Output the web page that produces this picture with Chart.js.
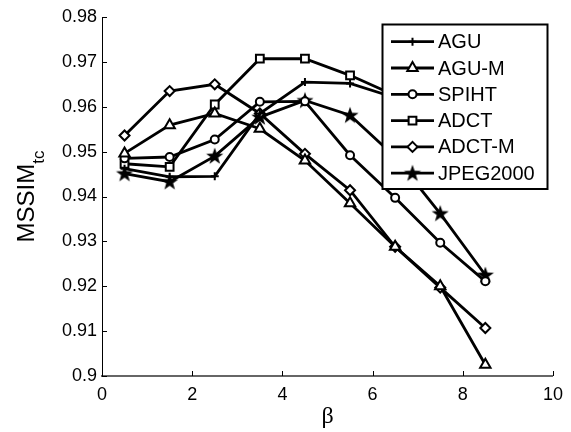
<!DOCTYPE html>
<html>
<head>
<meta charset="utf-8">
<script src="https://cdn.jsdelivr.net/npm/chart.js@4/dist/chart.umd.min.js"></script>
<style>
  html, body { margin: 0; padding: 0; background: #fff; }
  #grafico { display: block; }
</style>
</head>
<body>
<canvas id="grafico" width="571" height="432"></canvas>
<script>
// valores de beta (eje x)
const beta = [0.5, 1.5, 2.5, 3.5, 4.5, 5.5, 6.5, 7.5, 8.5];

// MSSIM_tc por metodo
const agu      = [0.9462, 0.9444, 0.9445, 0.9585, 0.9655, 0.9652, 0.9620, 0.9560, 0.9500];
const aguM     = [0.9496, 0.9559, 0.9585, 0.9551, 0.9480, 0.9385, 0.9288, 0.9200, 0.9025];
const spiht    = [0.9485, 0.9488, 0.9527, 0.9611, 0.9612, 0.9492, 0.9397, 0.9297, 0.9211];
const adct     = [0.9473, 0.9466, 0.9605, 0.9707, 0.9707, 0.9670, 0.9625, 0.9560, 0.9490];
const adctM    = [0.9536, 0.9635, 0.9650, 0.9585, 0.9495, 0.9414, 0.9288, 0.9197, 0.9107];
const jpeg2000 = [0.9451, 0.9433, 0.9490, 0.9577, 0.9614, 0.9581, 0.9488, 0.9362, 0.9225];

const nombres = ['AGU', 'AGU-M', 'SPIHT', 'ADCT', 'ADCT-M', 'JPEG2000'];
const xTicks = [0, 2, 4, 6, 8, 10];
const yTicks = [0.9, 0.91, 0.92, 0.93, 0.94, 0.95, 0.96, 0.97, 0.98];

const FUENTE = "'Liberation Sans', Arial, sans-serif";

// estrella rellena de 5 puntas para JPEG2000
function crearEstrella() {
  const c = document.createElement('canvas');
  c.width = 20; c.height = 20;
  const g = c.getContext('2d');
  g.beginPath();
  for (let i = 0; i < 10; i++) {
    const r = i % 2 === 0 ? 9 : 3.6;
    const a = -Math.PI / 2 + i * Math.PI / 5;
    const px = 10 + r * Math.cos(a), py = 10.5 + r * Math.sin(a);
    if (i === 0) g.moveTo(px, py); else g.lineTo(px, py);
  }
  g.closePath();
  g.fillStyle = '#000';
  g.fill();
  return c;
}
const estrella = crearEstrella();

function serie(label, valores, estilo, radio, relleno) {
  return {
    label: label,
    data: beta.map((b, i) => ({ x: b, y: valores[i] })),
    borderColor: '#000',
    borderWidth: 2.8,
    backgroundColor: relleno,
    pointStyle: estilo,
    pointRadius: radio,
    pointBorderColor: '#000',
    pointBackgroundColor: relleno,
    pointBorderWidth: 2,
    tension: 0,
    fill: false
  };
}

const datasets = [
  serie(nombres[0], agu, 'cross', 4, '#fff'),
  serie(nombres[1], aguM, 'triangle', 6, '#fff'),
  serie(nombres[2], spiht, 'circle', 4, '#fff'),
  serie(nombres[3], adct, 'rect', 5.5, '#fff'),
  serie(nombres[4], adctM, 'rectRot', 5, '#fff'),
  serie(nombres[5], jpeg2000, estrella, 9, '#000')
];

// marcas hacia adentro, titulos y leyenda estilo MATLAB
const estiloMatlab = {
  id: 'estiloMatlab',
  afterDatasetsDraw(chart) {
    const ctx = chart.ctx;
    const xs = chart.scales.x, ys = chart.scales.y;
    const area = chart.chartArea;
    ctx.save();
    ctx.strokeStyle = '#000';
    ctx.lineWidth = 1;
    xTicks.forEach(v => {
      const px = Math.round(xs.getPixelForValue(v)) + 0.5;
      ctx.beginPath(); ctx.moveTo(px, area.bottom); ctx.lineTo(px, area.bottom - 5); ctx.stroke();
    });
    yTicks.forEach(v => {
      const py = Math.round(ys.getPixelForValue(v)) + 0.5;
      ctx.beginPath(); ctx.moveTo(area.left, py); ctx.lineTo(area.left + 5, py); ctx.stroke();
    });

    // titulo eje y: MSSIM con subindice tc
    ctx.fillStyle = '#000';
    ctx.translate(34, (area.top + area.bottom) / 2);
    ctx.rotate(-Math.PI / 2);
    ctx.font = '24px ' + FUENTE;
    const w1 = ctx.measureText('MSSIM').width;
    ctx.font = '17px ' + FUENTE;
    const w2 = ctx.measureText('tc').width;
    const x0 = -(w1 + w2) / 2;
    ctx.textBaseline = 'alphabetic';
    ctx.font = '24px ' + FUENTE;
    ctx.fillText('MSSIM', x0, 0);
    ctx.font = '17px ' + FUENTE;
    ctx.fillText('tc', x0 + w1, 10);
    ctx.restore();

    // titulo eje x
    ctx.save();
    ctx.fillStyle = '#000';
    ctx.font = "24px 'Liberation Serif', 'Times New Roman', serif";
    ctx.textAlign = 'center';
    ctx.textBaseline = 'alphabetic';
    ctx.fillText('\u03B2', xs.getPixelForValue(5), 423);
    ctx.restore();

    // leyenda
    ctx.save();
    const lx = 382.5, ly = 24.5, lw = 165, lh = 164.5;
    ctx.fillStyle = '#fff';
    ctx.fillRect(lx, ly, lw, lh);
    ctx.strokeStyle = '#000';
    ctx.lineWidth = 2;
    ctx.strokeRect(lx, ly, lw, lh);
    chart.data.datasets.forEach((ds, i) => {
      const y = 41.7 + i * 26.3;
      ctx.strokeStyle = '#000';
      ctx.lineWidth = 2.8;
      ctx.beginPath(); ctx.moveTo(391, y); ctx.lineTo(434, y); ctx.stroke();
      ctx.fillStyle = ds.pointBackgroundColor;
      ctx.lineWidth = ds.pointBorderWidth;
      Chart.helpers.drawPoint(ctx, {
        pointStyle: ds.pointStyle, radius: ds.pointRadius,
        borderWidth: ds.pointBorderWidth, rotation: 0
      }, 412.5, y);
      ctx.fillStyle = '#000';
      ctx.font = '20px ' + FUENTE;
      ctx.textAlign = 'left';
      ctx.textBaseline = 'middle';
      ctx.fillText(ds.label, 438, y + 1);
    });
    ctx.restore();
  }
};

new Chart(document.getElementById('grafico'), {
  type: 'line',
  data: { datasets: datasets },
  options: {
    responsive: false,
    animation: false,
    devicePixelRatio: 1,
    layout: { padding: { top: 17, right: 18, left: 0, bottom: 0 } },
    plugins: { legend: { display: false }, tooltip: { enabled: false } },
    scales: {
      x: {
        type: 'linear', min: 0, max: 10,
        afterFit: s => { s.height = 56; },
        afterBuildTicks: s => { s.ticks = xTicks.map(v => ({ value: v })); },
        grid: { display: false, drawTicks: false },
        border: { display: true, color: '#666', width: 2 },
        ticks: { color: '#000', padding: 8, font: { family: FUENTE, size: 18 }, maxRotation: 0 }
      },
      y: {
        type: 'linear', min: 0.9, max: 0.98,
        afterFit: s => { s.width = 102; },
        afterBuildTicks: s => { s.ticks = yTicks.map(v => ({ value: v })); },
        grid: { display: false, drawTicks: false },
        border: { display: true, color: '#000', width: 1 },
        ticks: {
          color: '#000', padding: 5, font: { family: FUENTE, size: 18 },
          callback: v => String(Number(v.toFixed(2)))
        }
      }
    }
  },
  plugins: [estiloMatlab]
});
</script>
</body>
</html>
